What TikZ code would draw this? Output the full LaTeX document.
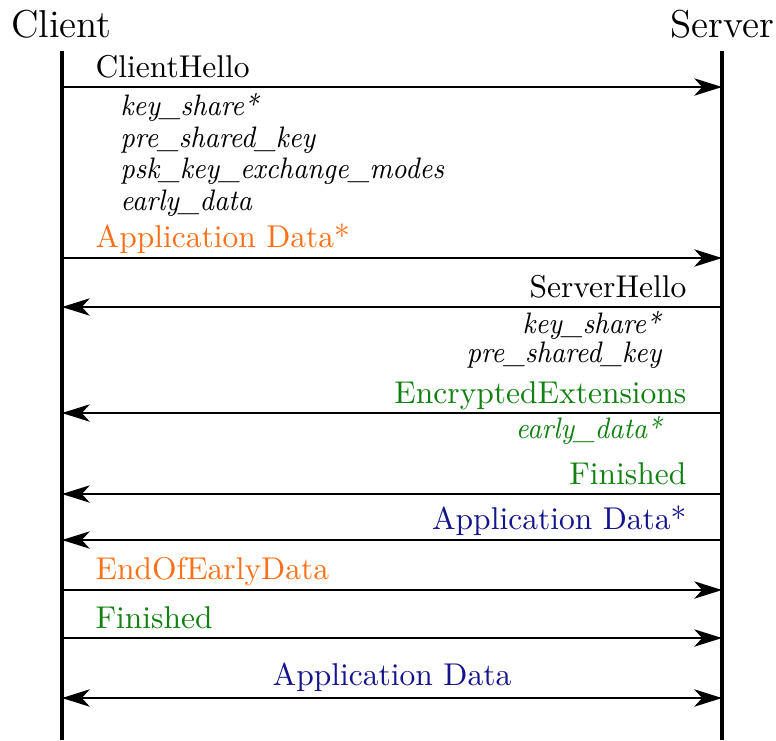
\documentclass[tikz,border=0pt]{standalone}
\usetikzlibrary{arrows.meta}
\definecolor{orng}{RGB}{255,112,24}
\definecolor{grn}{RGB}{16,128,16}
\definecolor{nvy}{RGB}{20,20,140}
\newcommand{\extxt}[1]{\scalebox{0.92}[1]{\fontsize{9.4}{11}\selectfont\itshape #1}}
\tikzset{
  tip/.tip={Stealth[length=8.8pt,width=5.5pt,inset=2.5pt]},
  life/.style={line width=1.1pt},
  msg/.style={line width=0.65pt,-tip},
  both/.style={line width=0.65pt,tip-tip},
  lbl/.style={inner sep=0pt,anchor=base west},
  rlbl/.style={inner sep=0pt,anchor=base east},
  head/.style={font=\fontsize{12.35}{15}\selectfont,inner sep=0pt,anchor=base}
}
\begin{document}
\begin{tikzpicture}[x=0.3174pt,y=-0.3174pt]
\useasboundingbox (0,0) rectangle (776,740);
\node[head] (client) at (61.5,37) {Client};
\node[head] (server) at (722.5,37) {Server};
\coordinate (ctop) at (62,51);
\coordinate (cbot) at (62,740);
\coordinate (stop) at (722,51);
\coordinate (sbot) at (722,740);
\draw[life] (ctop) -- (cbot);
\draw[life] (stop) -- (sbot);
% lifeline points
\foreach \n/\y in {1/87,2/258,3/307,4/413,5/494,6/540,7/590,8/638,9/698}{
  \coordinate (c\n) at (62,\y);
  \coordinate (s\n) at (722,\y);
}
% ClientHello
\node[lbl] (ch) at (95,77) {ClientHello};
\draw[msg] (c1) -- (s1);
\node[lbl] (e1) at (120,115) {\extxt{key\_share*}};
\node[lbl] (e2) at (120,147) {\extxt{pre\_shared\_key}};
\node[lbl] (e3) at (120,178) {\extxt{psk\_key\_exchange\_modes}};
\node[lbl] (e4) at (120,210) {\extxt{early\_data}};
% early app data
\node[lbl,text=orng] (ad0) at (95,247) {Application Data*};
\draw[msg] (c2) -- (s2);
% ServerHello
\node[rlbl] (sh) at (687,297) {ServerHello};
\draw[msg] (s3) -- (c3);
\node[rlbl] (e5) at (661,333) {\extxt{key\_share*}};
\node[rlbl] (e6) at (662,362) {\extxt{pre\_shared\_key}};
% EncryptedExtensions
\node[rlbl,text=grn] (ee) at (687,403) {EncryptedExtensions};
\draw[msg] (s4) -- (c4);
\node[rlbl,text=grn] (e7) at (662,438) {\extxt{early\_data*}};
% Finished server
\node[rlbl,text=grn] (sf) at (687,484) {Finished};
\draw[msg] (s5) -- (c5);
\node[rlbl,text=nvy] (sad) at (687,529) {Application Data*};
\draw[msg] (s6) -- (c6);
% client finish
\node[lbl,text=orng] (eoed) at (95,579) {EndOfEarlyData};
\draw[msg] (c7) -- (s7);
\node[lbl,text=grn] (cf) at (95,628) {Finished};
\draw[msg] (c8) -- (s8);
\node[inner sep=0pt,anchor=base,text=nvy] (ad) at (392,685) {Application Data};
\draw[both] (c9) -- (s9);
\end{tikzpicture}
\end{document}
